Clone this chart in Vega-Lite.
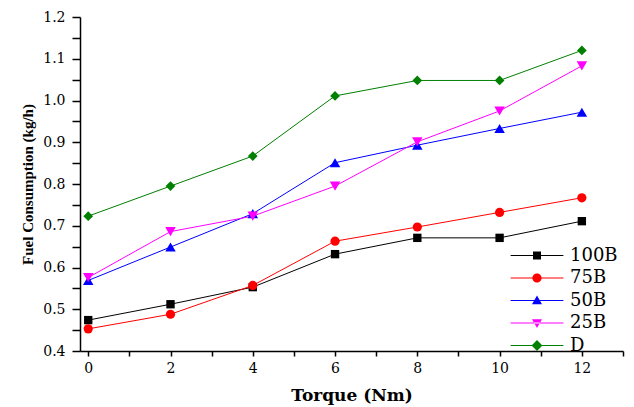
{
  "$schema": "https://vega.github.io/schema/vega-lite/v6.json",
  "width": 543,
  "height": 334,
  "autosize": "none",
  "padding": {"left": 80, "top": 17, "right": 11, "bottom": 56},
  "config": {
    "view": {"stroke": null},
    "font": "DejaVu Serif",
    "legend": {
      "orient": "none",
      "legendX": 448,
      "legendY": 229.5,
      "padding": 0,
      "rowPadding": 4.5,
      "symbolSize": 64,
      "symbolStrokeWidth": 0,
      "symbolOpacity": 1,
      "labelFontSize": 18,
      "labelFont": "DejaVu Serif",
      "labelColor": "#000000",
      "labelOffset": 24
    }
  },
  "data": {"values": [
    {"torque": 0, "fuel": 0.474, "blend": "100B"},
    {"torque": 2, "fuel": 0.512, "blend": "100B"},
    {"torque": 4, "fuel": 0.553, "blend": "100B"},
    {"torque": 6, "fuel": 0.632, "blend": "100B"},
    {"torque": 8, "fuel": 0.671, "blend": "100B"},
    {"torque": 10, "fuel": 0.671, "blend": "100B"},
    {"torque": 12, "fuel": 0.711, "blend": "100B"},
    {"torque": 0, "fuel": 0.453, "blend": "75B"},
    {"torque": 2, "fuel": 0.488, "blend": "75B"},
    {"torque": 4, "fuel": 0.557, "blend": "75B"},
    {"torque": 6, "fuel": 0.663, "blend": "75B"},
    {"torque": 8, "fuel": 0.697, "blend": "75B"},
    {"torque": 10, "fuel": 0.732, "blend": "75B"},
    {"torque": 12, "fuel": 0.767, "blend": "75B"},
    {"torque": 0, "fuel": 0.569, "blend": "50B"},
    {"torque": 2, "fuel": 0.649, "blend": "50B"},
    {"torque": 4, "fuel": 0.729, "blend": "50B"},
    {"torque": 6, "fuel": 0.851, "blend": "50B"},
    {"torque": 8, "fuel": 0.893, "blend": "50B"},
    {"torque": 10, "fuel": 0.933, "blend": "50B"},
    {"torque": 12, "fuel": 0.972, "blend": "50B"},
    {"torque": 0, "fuel": 0.576, "blend": "25B"},
    {"torque": 2, "fuel": 0.686, "blend": "25B"},
    {"torque": 4, "fuel": 0.723, "blend": "25B"},
    {"torque": 6, "fuel": 0.795, "blend": "25B"},
    {"torque": 8, "fuel": 0.901, "blend": "25B"},
    {"torque": 10, "fuel": 0.975, "blend": "25B"},
    {"torque": 12, "fuel": 1.083, "blend": "25B"},
    {"torque": 0, "fuel": 0.723, "blend": "D"},
    {"torque": 2, "fuel": 0.795, "blend": "D"},
    {"torque": 4, "fuel": 0.867, "blend": "D"},
    {"torque": 6, "fuel": 1.011, "blend": "D"},
    {"torque": 8, "fuel": 1.048, "blend": "D"},
    {"torque": 10, "fuel": 1.048, "blend": "D"},
    {"torque": 12, "fuel": 1.120, "blend": "D"}
  ]},
  "encoding": {
    "x": {
      "field": "torque", "type": "quantitative",
      "scale": {"domain": [-0.2, 13], "nice": false, "zero": false},
      "axis": {
        "title": "Torque (Nm)",
        "values": [0, 1, 2, 3, 4, 5, 6, 7, 8, 9, 10, 11, 12, 13],
        "labelExpr": "datum.value % 2 === 0 ? datum.label : ''",
        "labelOverlap": false,
        "grid": false,
        "tickSize": 5,
        "labelPadding": 5,
        "labelFontSize": 14,
        "labelColor": "#000000",
        "labelFont": "DejaVu Serif",
        "domainColor": "#000000",
        "domainWidth": 1.5,
        "tickColor": "#000000",
        "tickWidth": 1.5,
        "titleFont": "DejaVu Serif",
        "titleFontSize": 17,
        "titleFontWeight": "bold",
        "titleColor": "#000000",
        "titlePadding": 12,
        "encode": {"ticks": {"y2": {"value": {"expr": "datum.value % 2 === 0 ? 5 : 3"}}}}
      }
    },
    "y": {
      "field": "fuel", "type": "quantitative",
      "scale": {"domain": [0.4, 1.2], "nice": false, "zero": false},
      "axis": {
        "title": "Fuel Consumption (kg/h)",
        "values": [0.4, 0.45, 0.5, 0.55, 0.6, 0.65, 0.7, 0.75, 0.8, 0.85, 0.9, 0.95, 1.0, 1.05, 1.1, 1.15, 1.2],
        "labelExpr": "abs(datum.value * 10 - round(datum.value * 10)) < 0.001 ? format(datum.value, '.1f') : ''",
        "labelOverlap": false,
        "grid": false,
        "tickSize": 8,
        "labelPadding": 7,
        "labelFontSize": 14,
        "labelColor": "#000000",
        "labelFont": "DejaVu Serif",
        "domainColor": "#000000",
        "domainWidth": 1.5,
        "tickColor": "#000000",
        "tickWidth": 1.5,
        "titleFont": "Liberation Serif",
        "titleFontSize": 15,
        "titleFontWeight": "bold",
        "titleColor": "#000000",
        "titlePadding": 7,
        "encode": {"ticks": {"x2": {"value": {"expr": "abs(datum.value * 10 - round(datum.value * 10)) < 0.001 ? -8 : -4"}}}}
      }
    },
    "color": {
      "field": "blend", "type": "nominal",
      "scale": {"domain": ["100B", "75B", "50B", "25B", "D"], "range": ["#000000", "#FF0000", "#0000FF", "#FF00FF", "#008000"]},
      "legend": {"title": null}
    }
  },
  "layer": [
    {"mark": {"type": "line", "strokeWidth": 1}},
    {
      "mark": {"type": "point", "filled": true, "opacity": 0},
      "encoding": {
        "shape": {
          "field": "blend", "type": "nominal",
          "scale": {"domain": ["100B", "75B", "50B", "25B", "D"], "range": [
            "M-6.6,-0.12H6.6V0.12H-6.6ZM-1,-1H1V1H-1Z",
            "M-6.6,-0.12H6.6V0.12H-6.6ZM1.15,0A1.15,1.15 0 1,1 -1.15,0A1.15,1.15 0 1,1 1.15,0Z",
            "M-6.6,-0.12H6.6V0.12H-6.6ZM0,-1.25L1.25,0.95H-1.25Z",
            "M-6.6,-0.12H6.6V0.12H-6.6ZM0,1.25L1.25,-0.95H-1.25Z",
            "M-6.6,-0.12H6.6V0.12H-6.6ZM0,-1.35L1.35,0L0,1.35L-1.35,0Z"
          ]},
          "legend": {"title": null}
        }
      }
    },
    {
      "transform": [{"filter": "datum.blend === '100B'"}],
      "mark": {"type": "point", "filled": true, "opacity": 1, "shape": "square", "size": 70}
    },
    {
      "transform": [{"filter": "datum.blend === '75B'"}],
      "mark": {"type": "point", "filled": true, "opacity": 1, "shape": "circle", "size": 85}
    },
    {
      "transform": [{"filter": "datum.blend === '50B'"}],
      "mark": {"type": "point", "filled": true, "opacity": 1, "shape": "triangle-up", "size": 110}
    },
    {
      "transform": [{"filter": "datum.blend === '25B'"}],
      "mark": {"type": "point", "filled": true, "opacity": 1, "shape": "triangle-down", "size": 110}
    },
    {
      "transform": [{"filter": "datum.blend === 'D'"}],
      "mark": {"type": "point", "filled": true, "opacity": 1, "shape": "diamond", "size": 95}
    }
  ]
}
